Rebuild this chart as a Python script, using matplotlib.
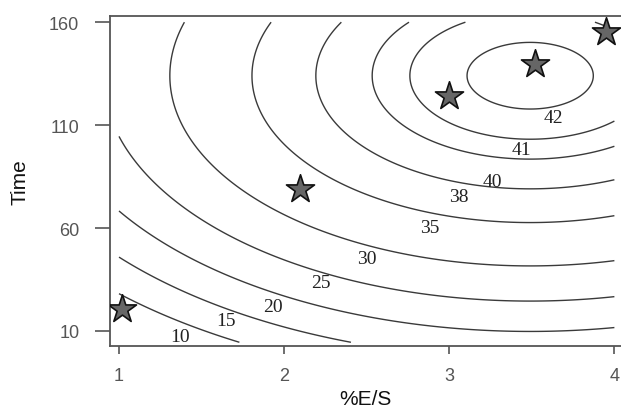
import matplotlib
matplotlib.use('Agg')
import matplotlib.pyplot as plt
import numpy as np

# fitted response surface (canonical form)
x_opt = 3.49      # %E/S at the optimum
t_opt = 134.0     # Time at the optimum
z_max = 42.38     # response at the optimum
curv_x = 2.6
curv_t = 0.00145

levels = [10, 15, 20, 25, 30, 35, 38, 40, 41, 42]
# where each level label sits
label_x = [1.37, 1.65, 1.93, 2.22, 2.50, 2.88, 3.06, 3.26, 3.44, 3.63]
label_y = [7.1, 14.9, 22.1, 33.3, 45.0, 60.5, 75.5, 82.8, 98.3, 113.9]

# experimental points (stars)
star_x = [1.02, 2.095, 3.0, 3.52, 3.95]
star_y = [20.7, 78.9, 124.0, 139.6, 155.0]

xx = np.linspace(1, 4, 300)
yy = np.linspace(4.5, 160, 300)
X, Y = np.meshgrid(xx, yy)
Z = z_max - curv_x * (X - x_opt) ** 2 - curv_t * (Y - t_opt) ** 2

fig = plt.figure(figsize=(6.21, 4.10), dpi=100)
ax = fig.add_axes([0.177, 0.1537, 0.823, 0.8048])

ax.contour(X, Y, Z, levels=levels, colors='#3a3a3a', linewidths=1.0)
for lx, ly, lv in zip(label_x, label_y, levels):
    ax.text(lx, ly, str(lv), ha='center', va='center', fontsize=14,
            family='Liberation Serif', color='#222222')

ax.scatter(star_x, star_y, marker='*', s=450, c='#666666',
           edgecolors='#111111', linewidths=1.2, zorder=5)

ax.set_xlim(0.945, 4.04)
ax.set_ylim(2.7, 163)
ax.set_xticks([1, 2, 3, 4])
ax.set_yticks([10, 60, 110, 160])

for s in ['left', 'top', 'bottom']:
    ax.spines[s].set_color('#555555')
    ax.spines[s].set_linewidth(1.3)
ax.spines['right'].set_visible(False)

ax.tick_params(axis='y', length=11, width=1.2, color='#555555', pad=11,
               labelsize=13, labelcolor='#555555')
ax.tick_params(axis='x', length=6, width=1.2, color='#555555', pad=9,
               labelsize=13, labelcolor='#555555')
for lab in ax.get_xticklabels() + ax.get_yticklabels():
    lab.set_family('Liberation Sans')

ax.set_xlabel('%E/S', fontsize=15, family='Liberation Sans', color='#111111', labelpad=4)
ax.set_ylabel('Time', fontsize=15, family='Liberation Sans', color='#111111', labelpad=14)

fig.savefig('out.png', dpi=100)
